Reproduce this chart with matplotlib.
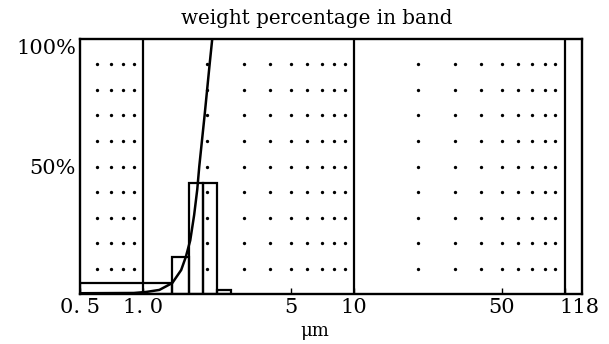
import numpy as np
import matplotlib
matplotlib.use('Agg')
import matplotlib.pyplot as plt
import matplotlib.transforms as mtransforms

# ── Data ────────────────────────────────────────────────────────────────────────

BAND_EDGES = [0.5, 1.37, 1.65, 1.92, 2.24, 2.6]      # µm
BAND_PCT = [4.3, 14.5, 43.6, 43.6, 1.6]             # weight % in band

CUM_X = [0.5, 0.9, 1.03, 1.19, 1.37, 1.51, 1.588, 1.667, 1.74, 1.80, 1.84, 1.95, 2.06, 2.12]
CUM_Y = [0.3, 0.4, 0.8, 1.6, 4.3, 9.4, 14.5, 21, 31, 41, 50, 70, 90, 100]

DOT_X = [0.6, 0.7, 0.8, 0.9, 2, 3, 4, 5, 6, 7, 8, 9,
         20, 30, 40, 50, 60, 70, 80, 90]
DOT_Y = [10, 20, 30, 40, 50, 60, 70, 80, 90]
GRID_LINES = [1, 10, 100]

X_TICKS = [0.5, 1, 5, 10, 50, 100]
X_TICK_LABELS = ['0. 5', '1. 0', '5', '10', '50', '118']
Y_TICKS = [50, 100]
Y_TICK_LABELS = ['50%', '100%']

SERIF = 'DejaVu Serif'

# ── Figure ─────────────────────────────────────────────────────────────────────

W, H = 609, 344
fig = plt.figure(figsize=(W / 100, H / 100), dpi=100)
ax = fig.add_axes([80 / W, 1 - 294 / H, (582 - 80) / W, (294 - 39) / H])

ax.set_xscale('log')
ax.set_xlim(0.5, 120.4)
ax.set_ylim(0, 100)

# dot grid
gx, gy = np.meshgrid(DOT_X, DOT_Y)
ax.plot(gx.ravel(), gy.ravel(), 'o', color='black', ms=2.4, mew=0)

for x in GRID_LINES:
    ax.axvline(x, color='black', lw=1.6)

lefts = BAND_EDGES[:-1]
widths = np.diff(BAND_EDGES)
ax.bar(lefts, BAND_PCT, width=widths, align='edge', fill=False,
       edgecolor='black', lw=1.6)

ax.plot(CUM_X, CUM_Y, color='black', lw=1.8, solid_capstyle='butt',
        solid_joinstyle='round')

for s in ax.spines.values():
    s.set_linewidth(1.7)

ax.set_xticks(X_TICKS)
ax.set_xticklabels(X_TICK_LABELS, family=SERIF, fontsize=15)
ax.xaxis.set_minor_locator(matplotlib.ticker.NullLocator())
ax.tick_params(axis='x', direction='in', length=4, width=1, pad=3)
# the "118" label sits a little right of its grid line in the original
lab = ax.get_xticklabels()[-1]
lab.set_transform(lab.get_transform() +
                  mtransforms.ScaledTranslation(14 / 100, 0, fig.dpi_scale_trans))

ax.set_yticks(Y_TICKS)
ax.set_yticklabels(Y_TICK_LABELS, family=SERIF, fontsize=15)
ax.tick_params(axis='y', length=0, pad=3)
ax.get_yticklabels()[1].set_va('top')

fig.text(317 / W, 1 - 19 / H, 'weight percentage in band',
         ha='center', va='center', family=SERIF, fontsize=14.3)
fig.text(315 / W, 1 - 331 / H, 'μm', ha='center', va='center',
         family=SERIF, fontsize=13)

fig.savefig('out.png', dpi=100)
